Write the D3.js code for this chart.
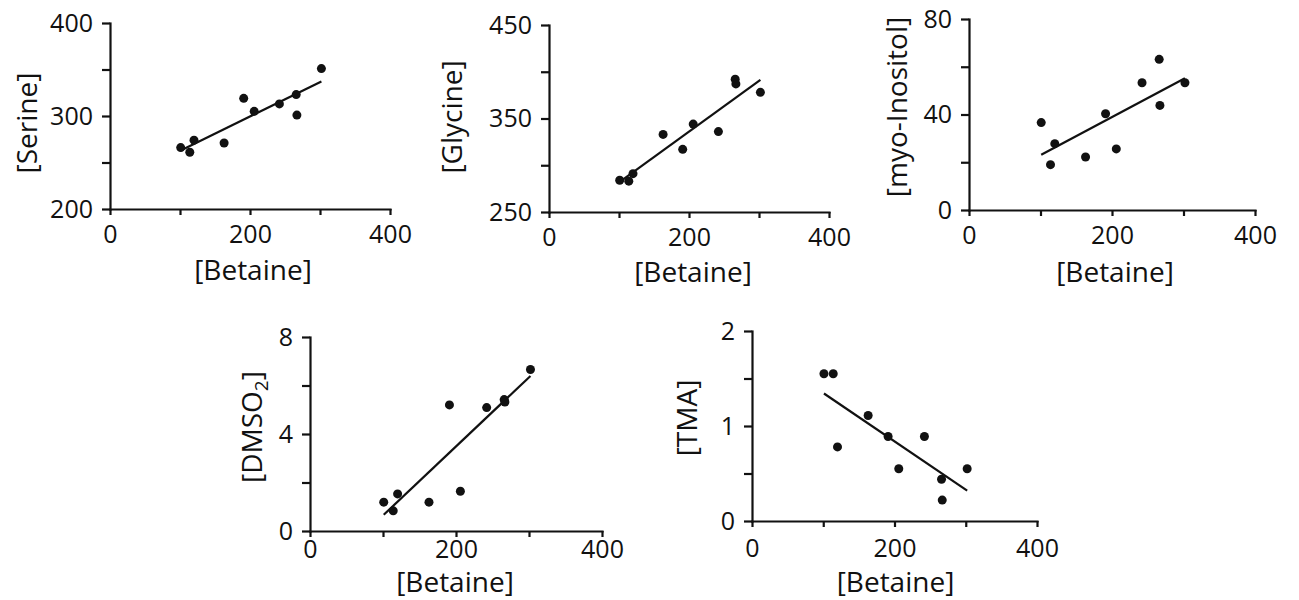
<!DOCTYPE html>
<html>
<head>
  <meta charset="utf-8">
  <script src="https://d3js.org/d3.v7.min.js"></script>
  <style>
    body {
      margin: 0;
      background: #fff;
    }

    svg text {
      font-family: 'Open Sans', sans-serif;
      fill: #111;
    }
  </style>
</head>
<body>
  <div id="chart"></div>
  <script>
    // same betaine samples on the x axis of every panel
    const betaine = [101, 114, 120, 163, 191, 206, 242, 266, 267, 302];

    const serine = [266, 261, 274, 271, 319, 305, 313, 323, 301, 351];
    const glycine = [284, 283, 291, 333, 317, 344, 336, 392, 387, 378];
    const inositol = [36.6, 19.0, 27.8, 22.2, 40.3, 25.6, 53.3, 63.1, 43.8, 53.3];
    const dmso2 = [1.19, 0.83, 1.53, 1.19, 5.2, 1.64, 5.09, 5.42, 5.32, 6.66];
    const tma = [1.55, 1.55, 0.78, 1.11, 0.89, 0.55, 0.89, 0.44, 0.22, 0.55];

    const xTicks = [0, 100, 200, 300, 400];
    const xTickLabels = [0, 200, 400];

    const panels = [
      { name: 'Serine', values: serine, yDomain: [200, 400], yTicks: [200, 250, 300, 350, 400], yTickLabels: [200, 300, 400] },
      { name: 'Glycine', values: glycine, yDomain: [250, 450], yTicks: [250, 300, 350, 400, 450], yTickLabels: [250, 350, 450] },
      { name: 'myo-Inositol', values: inositol, yDomain: [0, 80], yTicks: [0, 20, 40, 60, 80], yTickLabels: [0, 40, 80] },
      { name: 'DMSO', sub: '2', values: dmso2, yDomain: [0, 8], yTicks: [0, 2, 4, 6, 8], yTickLabels: [0, 4, 8] },
      { name: 'TMA', values: tma, yDomain: [0, 2], yTicks: [0, 0.5, 1, 1.5, 2], yTickLabels: [0, 1, 2] }
    ];

    // plot boxes and label offsets (px)
    const boxes = [
      { x0: 110, x1: 390, y0: 23, y1: 209, tickPad: 10, titleDy: 71, titleDx: 3, yOff: 73, yCy: 123 },
      { x0: 549, x1: 829, y0: 25, y1: 212, tickPad: 10, titleDy: 70, titleDx: 4, yOff: 87, yCy: 117 },
      { x0: 969, x1: 1255, y0: 19, y1: 210, tickPad: 10, titleDy: 72, titleDx: 3, yOff: 62, yCy: 107 },
      { x0: 310, x1: 602, y0: 337, y1: 531, tickPad: 3, titleDy: 61, titleDx: -1, yOff: 48, yCy: 427 },
      { x0: 752, x1: 1037, y0: 331, y1: 521, tickPad: 12, titleDy: 71, titleDx: 1, yOff: 55, yCy: 418 }
    ];

    const svg = d3.select('#chart')
      .append('svg')
      .attr('width', 1299)
      .attr('height', 600);

    function fit(xs, ys) {
      const mx = d3.mean(xs), my = d3.mean(ys);
      const sxy = d3.sum(xs, (d, i) => (d - mx) * (ys[i] - my));
      const sxx = d3.sum(xs, d => (d - mx) * (d - mx));
      const slope = sxy / sxx;
      return x => my + slope * (x - mx);
    }

    panels.forEach((p, i) => {
      const b = boxes[i];

      const x = d3.scaleLinear().domain([0, 400]).range([b.x0, b.x1]);
      const y = d3.scaleLinear().domain(p.yDomain).range([b.y1, b.y0]);

      const g = svg.append('g').attr('class', 'panel');

      const xAxis = g.append('g')
        .attr('transform', `translate(0,${b.y1})`)
        .call(d3.axisBottom(x)
          .tickValues(xTicks)
          .tickSize(6)
          .tickSizeOuter(0)
          .tickPadding(b.tickPad)
          .tickFormat(d => xTickLabels.includes(d) ? d : ''));

      const yAxis = g.append('g')
        .attr('transform', `translate(${b.x0},0)`)
        .call(d3.axisLeft(y)
          .tickValues(p.yTicks)
          .tickSize(8)
          .tickSizeOuter(0)
          .tickPadding(9)
          .tickFormat(d => p.yTickLabels.includes(d) ? d : ''));

      [xAxis, yAxis].forEach(a => {
        a.select('.domain').attr('stroke', '#111').attr('stroke-width', 2.2).attr('stroke-linecap', 'square');
        a.selectAll('.tick line').attr('stroke', '#111').attr('stroke-width', 2.2);
        a.selectAll('.tick text').style('font-size', '25px').attr('fill', '#111');
      });

      // regression line
      const f = fit(betaine, p.values);
      const ext = d3.extent(betaine);
      g.append('line')
        .attr('x1', x(ext[0]))
        .attr('y1', y(f(ext[0])))
        .attr('x2', x(ext[1]))
        .attr('y2', y(f(ext[1])))
        .attr('stroke', '#111')
        .attr('stroke-width', 2.2);

      g.selectAll('circle')
        .data(p.values)
        .enter()
        .append('circle')
        .attr('cx', (d, j) => x(betaine[j]))
        .attr('cy', d => y(d))
        .attr('r', 4.5)
        .attr('fill', '#111');

      g.append('text')
        .attr('x', (b.x0 + b.x1) / 2 + b.titleDx)
        .attr('y', b.y1 + b.titleDy)
        .attr('text-anchor', 'middle')
        .style('font-size', '28px')
        .text('[Betaine]');

      const yt = g.append('text')
        .attr('transform', `translate(${b.x0 - b.yOff},${b.yCy}) rotate(-90)`)
        .attr('text-anchor', 'middle')
        .style('font-size', '28px');

      if (p.sub) {
        yt.append('tspan').text('[' + p.name);
        yt.append('tspan').attr('dy', 6).style('font-size', '19px').text(p.sub);
        yt.append('tspan').attr('dy', -6).text(']');
      } else {
        yt.text('[' + p.name + ']');
      }
    });
  </script>
</body>
</html>
